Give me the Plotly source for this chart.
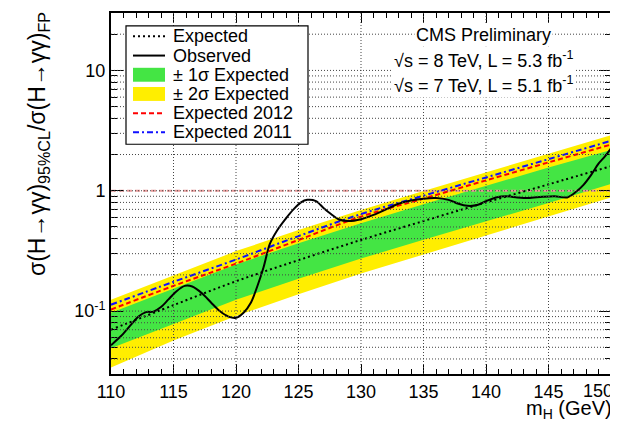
import math
import plotly.graph_objects as go

# ---------------- data ----------------
mass_grid = [110, 115, 120, 125, 130, 135, 140, 145, 150]
expected = [0.070, 0.112, 0.177, 0.265, 0.39, 0.56, 0.80, 1.13, 1.60]
plus1 = [0.097, 0.155, 0.244, 0.366, 0.538, 0.773, 1.10, 1.56, 2.18]
plus2 = [0.124, 0.199, 0.315, 0.471, 0.693, 0.996, 1.42, 2.01, 2.90]
minus1 = [0.049, 0.078, 0.124, 0.186, 0.273, 0.392, 0.56, 0.79, 1.14]
minus2 = [0.034, 0.057, 0.091, 0.138, 0.205, 0.296, 0.425, 0.61, 0.88]
exp2012 = [0.103, 0.162, 0.248, 0.39, 0.61, 0.86, 1.22, 1.72, 2.42]
exp2011 = [0.113, 0.175, 0.268, 0.42, 0.64, 0.91, 1.29, 1.83, 2.60]

obs_mass = [110.0, 110.8, 111.5, 112.2, 112.8, 113.4, 114.0, 114.6, 115.2, 115.9,
            116.5, 117.3, 118.0, 118.7, 119.4, 120.0, 120.6, 121.2, 121.7, 122.2,
            122.7, 123.3, 124.0, 124.6, 125.2, 125.7, 126.4, 127.0, 127.6, 128.2,
            129.0, 130.0, 131.0, 132.0, 133.0, 134.0, 135.0, 136.0, 137.0, 137.8,
            138.5, 139.3, 140.0, 140.8, 141.6, 142.5, 143.4, 144.5, 145.5, 146.5,
            147.2, 147.8, 148.4, 149.0, 149.5, 150.0]
observed = [0.052, 0.062, 0.075, 0.090, 0.098, 0.099, 0.108, 0.125, 0.145, 0.162,
            0.160, 0.140, 0.118, 0.100, 0.090, 0.088, 0.097, 0.118, 0.160, 0.230,
            0.36, 0.47, 0.59, 0.70, 0.80, 0.84, 0.82, 0.72, 0.64, 0.58,
            0.56, 0.58, 0.63, 0.70, 0.78, 0.83, 0.86, 0.87, 0.84, 0.78,
            0.75, 0.76, 0.82, 0.88, 0.90, 0.88, 0.87, 0.89, 0.90, 0.88,
            0.98, 1.12, 1.35, 1.68, 1.92, 2.25]

ref_level = 1.0
x_ticks = [110, 115, 120, 125, 130, 135, 140, 145, 150]
x_tick_text = ["110", "115", "120", "125", "130", "135", "140", "145", "150"]
x_major = [115, 120, 125, 130, 135, 140, 145]
y_grid = [0.04, 0.05, 0.06, 0.07, 0.08, 0.09, 0.1, 0.2, 0.3, 0.4, 0.5, 0.6, 0.7,
          0.8, 0.9, 1, 2, 3, 4, 5, 6, 7, 8, 9, 10, 20]
y_major = [0.1, 1, 10]
y_major_text = ["10<sup>-1</sup>", "1", "10"]
y_minor = [v for v in y_grid if v not in y_major] + [0.03, 30]

legend_labels = ["Expected", "Observed", "± 1σ Expected", "± 2σ Expected",
                 "Expected 2012", "Expected 2011"]

# ---------------- styles ----------------
FONT = "Liberation Sans, Arial, Helvetica, sans-serif"
GREEN = "#44e544"
YELLOW = "#ffee00"
RED = "#ff0000"
BLUE = "#1010ff"
W, H = 618, 421
L, R, T, B = 103, 15, 3, 55
PW, PH = W - L - R, H - T - B


def px_x(p):
    return (p - L) / PW


def px_y(p):
    return (H - B - p) / PH


fig = go.Figure()

# bands
fig.add_trace(go.Scatter(x=mass_grid + mass_grid[::-1], y=plus2 + minus2[::-1],
                         fill="toself", fillcolor=YELLOW, line=dict(width=0),
                         mode="lines", hoverinfo="skip", showlegend=False))
fig.add_trace(go.Scatter(x=mass_grid + mass_grid[::-1], y=plus1 + minus1[::-1],
                         fill="toself", fillcolor=GREEN, line=dict(width=0),
                         mode="lines", hoverinfo="skip", showlegend=False))
# reference line at 1
fig.add_trace(go.Scatter(x=[mass_grid[0], mass_grid[-1]], y=[ref_level, ref_level],
                         mode="lines", line=dict(color="#e89898", width=2, dash="5px,3px"),
                         showlegend=False))
# expected lines
fig.add_trace(go.Scatter(x=mass_grid, y=exp2012, mode="lines",
                         line=dict(color=RED, width=2, dash="5px,3px", shape="spline"),
                         showlegend=False))
fig.add_trace(go.Scatter(x=mass_grid, y=exp2011, mode="lines",
                         line=dict(color=BLUE, width=2, dash="6px,3px,2px,3px", shape="spline"),
                         showlegend=False))
fig.add_trace(go.Scatter(x=mass_grid, y=expected, mode="lines",
                         line=dict(color="black", width=2, dash="2px,3px", shape="spline"),
                         showlegend=False))
fig.add_trace(go.Scatter(x=obs_mass, y=observed, mode="lines",
                         line=dict(color="black", width=2, shape="spline", smoothing=0.8),
                         showlegend=False))

shapes = []
# grid on top of the bands (ROOT style)
grid_line = dict(color="#444444", width=1, dash="1px,2px")
for v in y_grid:
    shapes.append(dict(type="line", xref="paper", yref="y", x0=0, x1=1,
                       y0=v, y1=v, line=grid_line, layer="above"))
for v in x_major:
    shapes.append(dict(type="line", xref="x", yref="paper", x0=v, x1=v, y0=0, y1=1,
                       line=grid_line, layer="above"))

# manual legend
box = (118, 16, 300, 135)
shapes.append(dict(type="rect", xref="paper", yref="paper",
                   x0=px_x(box[0]), x1=px_x(box[2]), y0=px_y(box[3]), y1=px_y(box[1]),
                   fillcolor="white", line=dict(color="black", width=1.2), layer="above"))
ys = [26.5 + 19.3 * i for i in range(6)]
sx0, sx1 = 125, 157
samples = [
    ("line", dict(color="black", width=2, dash="2px,3px")),
    ("line", dict(color="black", width=2)),
    ("rect", GREEN),
    ("rect", YELLOW),
    ("line", dict(color=RED, width=2, dash="5px,3px")),
    ("line", dict(color=BLUE, width=2, dash="6px,3px,2px,3px")),
]
annotations = []
for yc, (kind, st), lab in zip(ys, samples, legend_labels):
    if kind == "line":
        shapes.append(dict(type="line", xref="paper", yref="paper",
                           x0=px_x(sx0), x1=px_x(sx1), y0=px_y(yc), y1=px_y(yc),
                           line=st, layer="above"))
    else:
        shapes.append(dict(type="rect", xref="paper", yref="paper",
                           x0=px_x(sx0), x1=px_x(sx1), y0=px_y(yc + 7), y1=px_y(yc - 7),
                           fillcolor=st, line=dict(width=0), layer="above"))
    annotations.append(dict(text=lab, xref="paper", yref="paper", x=px_x(163), y=px_y(yc),
                            xanchor="left", yanchor="middle", showarrow=False,
                            font=dict(family=FONT, size=18, color="black")))

# CMS labels
for txt, xc, yc in [("CMS Preliminary", 475, 25),
                    ("√s = 8 TeV, L = 5.3 fb<sup>-1</sup>", 476, 50),
                    ("√s = 7 TeV, L = 5.1 fb<sup>-1</sup>", 476, 75)]:
    annotations.append(dict(text=txt, xref="paper", yref="paper", x=px_x(xc), y=px_y(yc),
                            xanchor="center", yanchor="middle", showarrow=False,
                            bgcolor="white", borderpad=1,
                            font=dict(family=FONT, size=18, color="black")))

# last x tick label, pulled slightly inward so it is not clipped at the page edge
annotations.append(dict(text=x_tick_text[-1], xref="paper", yref="paper",
                        x=px_x(606), y=px_y(383), xanchor="right", yanchor="middle",
                        showarrow=False, borderpad=0,
                        font=dict(family=FONT, size=18, color="black")))

# axis titles
annotations.append(dict(text="m<sub>H</sub> (GeV)", xref="paper", yref="paper",
                        x=px_x(606), y=px_y(416), xanchor="right", yanchor="bottom",
                        showarrow=False, font=dict(family=FONT, size=20, color="black")))
annotations.append(dict(text="σ(H→γγ)<sub>95%CL</sub>/σ(H→γγ)<sub>FP</sub>",
                        xref="paper", yref="paper", x=px_x(30), y=px_y(0),
                        xanchor="center", yanchor="top", textangle=-90,
                        showarrow=False, font=dict(family=FONT, size=23, color="black")))

fig.update_layout(
    width=W, height=H,
    margin=dict(l=L, r=R, t=T, b=B),
    paper_bgcolor="white", plot_bgcolor="white",
    shapes=shapes, annotations=annotations,
    showlegend=False,
    font=dict(family=FONT, size=18, color="black"),
    xaxis=dict(range=[110, 150], showgrid=False, zeroline=False,
               showline=True, linecolor="black", linewidth=2, mirror="allticks",
               ticks="inside", ticklen=10, tickwidth=1, tickcolor="black",
               tickvals=x_ticks, ticktext=x_tick_text[:-1] + [""],
               tickfont=dict(family=FONT, size=18, color="black"),
               minor=dict(ticks="inside", ticklen=5, tickwidth=1, tickcolor="black",
                          dtick=1, showgrid=False)),
    yaxis=dict(type="log", range=[math.log10(0.03), math.log10(30)],
               showgrid=False, zeroline=False,
               showline=True, linecolor="black", linewidth=2, mirror="allticks",
               ticks="inside", ticklen=12, tickwidth=1, tickcolor="black",
               tickvals=y_major, ticktext=y_major_text,
               tickfont=dict(family=FONT, size=18, color="black"),
               minor=dict(ticks="inside", ticklen=6, tickwidth=1, tickcolor="black",
                          tickvals=y_minor, showgrid=False)),
)

fig.write_html("out.html")
